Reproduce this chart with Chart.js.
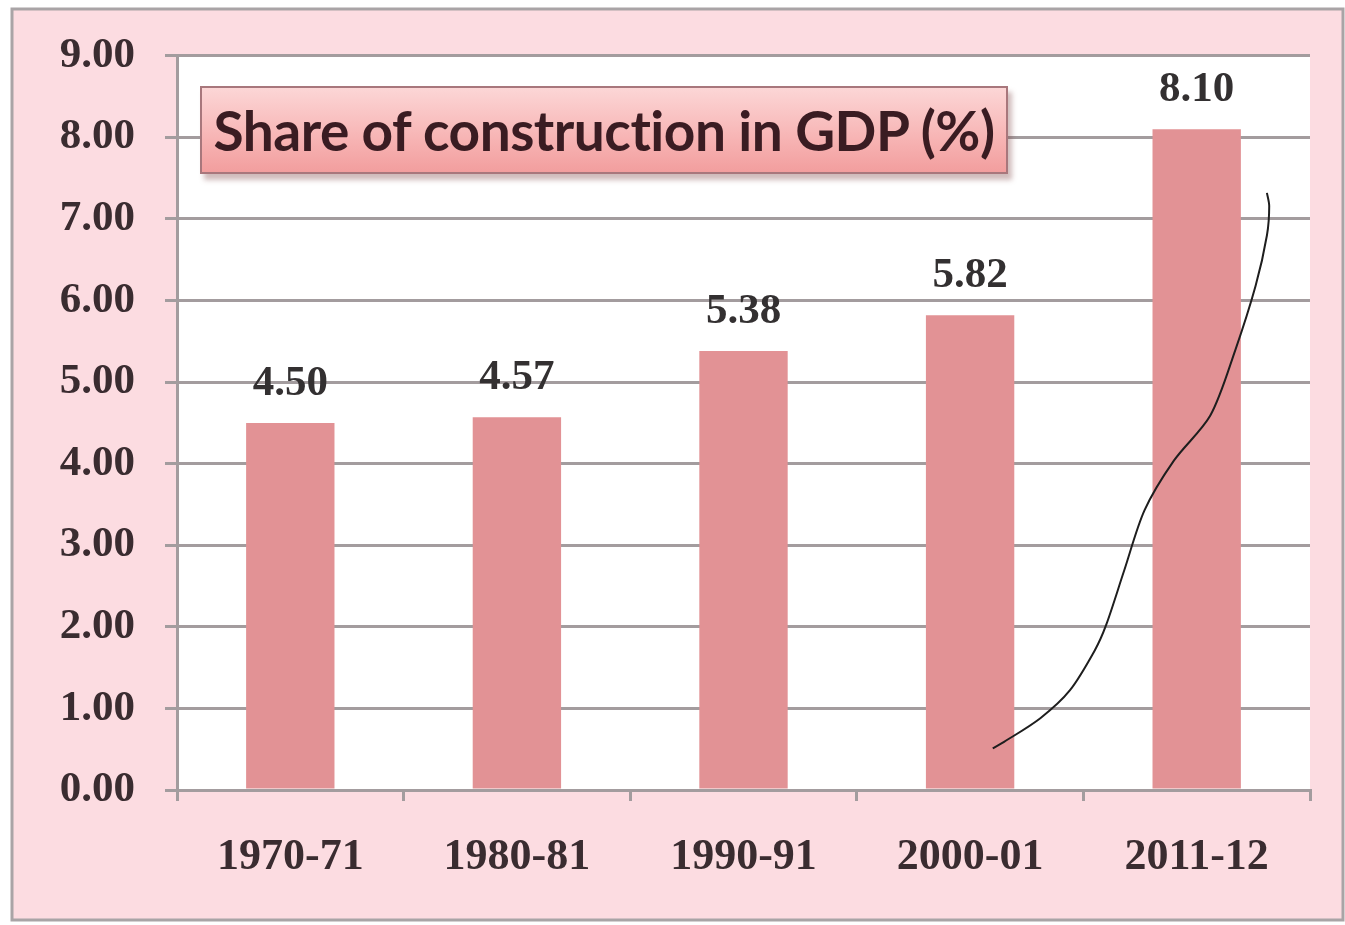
<!DOCTYPE html>
<html>
<head>
<meta charset="utf-8">
<script src="https://cdn.jsdelivr.net/npm/chart.js@4.4.1/dist/chart.umd.min.js"></script>
<style>
  html, body { margin: 0; padding: 0; background: #fff; }
  #wrap { position: relative; width: 1345px; height: 925px; }
  #title {
    position: absolute; left: 200px; top: 86px; width: 804px; height: 84px;
    border: 2px solid #a8777c;
    background: linear-gradient(#fcd6d6, #f7b4b4 60%, #f29e9e);
    box-shadow: 4px 6px 5px rgba(120, 60, 60, 0.35);
    font-family: Lato, "Open Sans", sans-serif; font-weight: bold; font-size: 55px;
    color: #3a1c22; line-height: 84px; text-align: center; letter-spacing: -0.5px;
  }
</style>
</head>
<body>
<div id="wrap">
  <canvas id="chart" width="1345" height="925"></canvas>
  <div id="title">Share of construction in GDP (%)</div>
</div>
<script>
const categories = ["1970-71", "1980-81", "1990-91", "2000-01", "2011-12"];
const shares = [4.50, 4.57, 5.38, 5.82, 8.10];
const yTicks = [0, 1, 2, 3, 4, 5, 6, 7, 8, 9];
// hand-drawn pen stroke over the last bars, in data units (x = category index)
const scribbleX = [3.10, 3.15, 3.31, 3.44, 3.55, 3.60, 3.68, 3.77, 3.90, 4.06, 4.17, 4.26, 4.31, 4.32, 4.31];
const scribbleY = [0.51, 0.59, 0.88, 1.22, 1.71, 2.02, 2.69, 3.43, 4.04, 4.59, 5.39, 6.18, 6.80, 7.16, 7.32];

const serif = "'Liberation Serif', 'DejaVu Serif', serif";
const tickColor = "#3a2c30";
const gridColor = "#a39c9e";

const background = {
  id: "background",
  beforeDraw(chart) {
    const ctx = chart.ctx, a = chart.chartArea;
    ctx.save();
    ctx.fillStyle = "#ffffff";
    ctx.fillRect(0, 0, chart.width, chart.height);
    ctx.fillStyle = "#fcdce1";
    ctx.fillRect(12, 9, 1331, 911);
    ctx.strokeStyle = "#a9a4a6";
    ctx.lineWidth = 3;
    ctx.strokeRect(12, 9, 1331, 911);
    ctx.fillStyle = "#ffffff";
    ctx.fillRect(a.left, a.top, a.right - a.left, a.bottom - a.top);
    ctx.restore();
  }
};

const valueLabels = {
  id: "valueLabels",
  afterDatasetsDraw(chart) {
    const ctx = chart.ctx;
    const meta = chart.getDatasetMeta(1);
    ctx.save();
    ctx.font = "bold 43px " + serif;
    ctx.fillStyle = "#333031";
    ctx.textAlign = "center";
    ctx.textBaseline = "alphabetic";
    meta.data.forEach((bar, i) => {
      ctx.fillText(shares[i].toFixed(2), bar.x, bar.y - 28);
    });
    ctx.restore();
  }
};

new Chart(document.getElementById("chart"), {
  type: "bar",
  data: {
    labels: categories,
    datasets: [{
      type: "line",
      data: scribbleX.map((x, i) => ({ x: x, y: scribbleY[i] })),
      xAxisID: "x2",
      borderColor: "#1e1e1e",
      borderWidth: 2,
      pointRadius: 0,
      tension: 0.3,
      order: 0
    }, {
      data: shares,
      backgroundColor: "#e29295",
      barPercentage: 0.39,
      categoryPercentage: 1,
      grouped: false,
      order: 1
    }]
  },
  options: {
    responsive: false,
    animation: false,
    layout: { padding: { top: 55, right: 35, left: 0, bottom: 0 } },
    plugins: { legend: { display: false }, tooltip: { enabled: false } },
    scales: {
      x: {
        offset: true,
        grid: { offset: true, drawOnChartArea: false, drawTicks: true, tickLength: 11, color: gridColor, lineWidth: 3 },
        border: { color: gridColor, width: 3 },
        ticks: { font: { family: serif, weight: "bold", size: 44 }, color: tickColor, padding: 30 },
        afterFit(s) { s.height = 135; }
      },
      x2: { type: "linear", display: false, offset: false, grid: { offset: false }, min: -0.5, max: 4.5 },
      y: {
        min: 0, max: 9,
        afterBuildTicks(s) { s.ticks = yTicks.map(v => ({ value: v })); },
        grid: { color: gridColor, lineWidth: 3, tickLength: 12 },
        border: { color: gridColor, width: 3 },
        ticks: {
          font: { family: serif, weight: "bold", size: 43 }, color: tickColor, padding: 30,
          callback: v => Number(v).toFixed(2)
        },
        afterFit(s) { s.width = 177; }
      }
    }
  },
  plugins: [background, valueLabels]
});
</script>
</body>
</html>
